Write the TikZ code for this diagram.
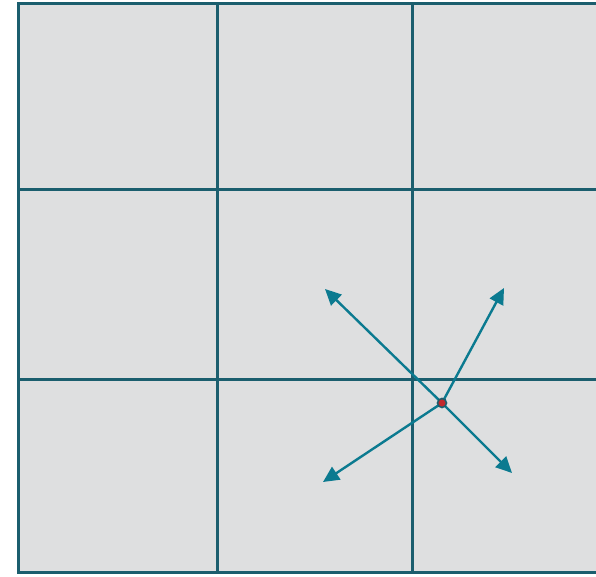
\documentclass[tikz,border=0pt]{standalone}
\usetikzlibrary{arrows.meta}
\definecolor{gridline}{HTML}{1B5E6E}
\definecolor{vecline}{HTML}{0B7A90}
\definecolor{cellfill}{HTML}{DEDFE0}
\definecolor{dotred}{HTML}{C0282C}

\begin{document}
\begin{tikzpicture}[x=0.5pt, y=-0.5pt, >={Triangle[length=8pt, width=7.5pt]}]
  \useasboundingbox (0,0) rectangle (596,577);
  \clip (0,0) rectangle (596,577);

  % Cells
  \fill[cellfill] (18,4) rectangle (620,573);

  % Grid lines
  \foreach \x in {18, 217, 412, 607}
    \draw[gridline, line width=1.5pt, line cap=rect] (\x,4) -- (\x,573);
  \foreach \y in {4, 190, 380, 573}
    \draw[gridline, line width=1.5pt, line cap=rect] (18,\y) -- (620,\y);

  % Point and its vectors
  \coordinate (p) at (442,403);
  \foreach \name/\x/\y in {ul/325/289, ur/504/288, ll/323/482, lr/512/473} {
    \coordinate (\name) at (\x,\y);
    \draw[->, vecline, line width=1.2pt] (p) -- (\name);
  }
  \node[circle, draw=gridline, fill=dotred, inner sep=0pt, minimum size=4.5pt,
        line width=0.8pt] (dot) at (p) {};
\end{tikzpicture}
\end{document}
